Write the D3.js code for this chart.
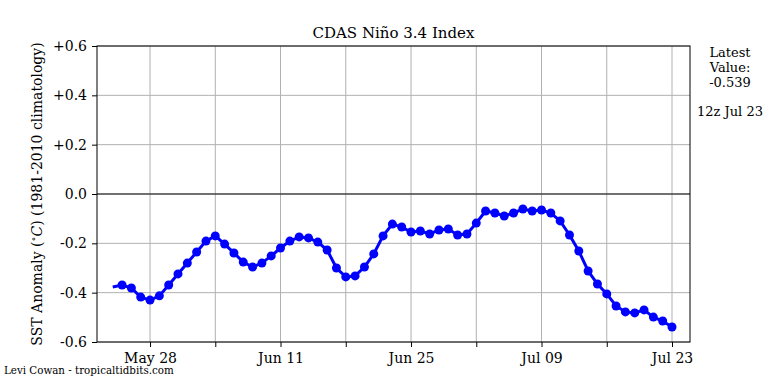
<!DOCTYPE html>
<html>
<head>
<meta charset="utf-8">
<script src="https://cdn.jsdelivr.net/npm/d3@7"></script>
<style>
  body { margin: 0; background: #fff; }
  svg { font-family: "DejaVu Serif", serif; }
</style>
</head>
<body>
<svg id="chart" width="768" height="384"></svg>
<script>
// daily values, first day has no marker (line only)
const startDate = '2024-05-24';
const anomaly = [
  -0.377, -0.369, -0.381, -0.418, -0.430, -0.413, -0.369, -0.324, -0.280, -0.235,
  -0.191, -0.170, -0.203, -0.239, -0.276, -0.296, -0.280, -0.251, -0.219, -0.191,
  -0.174, -0.178, -0.195, -0.227, -0.300, -0.336, -0.332, -0.296, -0.243, -0.170,
  -0.122, -0.134, -0.154, -0.150, -0.162, -0.146, -0.142, -0.166, -0.162, -0.118,
  -0.069, -0.077, -0.089, -0.077, -0.061, -0.069, -0.065, -0.077, -0.109, -0.166,
  -0.231, -0.312, -0.365, -0.405, -0.454, -0.478, -0.482, -0.470, -0.499, -0.515,
  -0.539
];
const xTickDates = ['2024-05-28', '2024-06-04', '2024-06-11', '2024-06-18', '2024-06-25',
  '2024-07-02', '2024-07-09', '2024-07-16', '2024-07-23'];
const xTickLabels = ['May 28', '', 'Jun 11', '', 'Jun 25', '', 'Jul 09', '', 'Jul 23'];
const yTicks = [-0.6, -0.4, -0.2, 0.0, 0.2, 0.4, 0.6];
const yTickLabels = ['-0.6', '-0.4', '-0.2', '0.0', '+0.2', '+0.4', '+0.6'];

const DAY = 86400000;
const t0 = new Date(startDate + 'T00:00:00Z').getTime();
const points = anomaly.map((v, i) => ({ date: new Date(t0 + i * DAY), value: v }));

const svg = d3.select('#chart');
const plotL = 97, plotR = 690, plotT = 46, plotB = 342;

const may28 = new Date('2024-05-28T00:00:00Z').getTime();
const x = d3.scaleUtc()
  .domain([new Date(may28 - 5.69 * DAY), new Date(may28 + 57.93 * DAY)])
  .range([plotL, plotR]);
const y = d3.scaleLinear().domain([-0.6, 0.6]).range([plotB, plotT]);

const tickDates = xTickDates.map(d => new Date(d + 'T00:00:00Z'));

// grid
const grid = svg.append('g');
grid.selectAll('line.vg').data(tickDates).enter().append('line')
  .attr('x1', d => x(d)).attr('x2', d => x(d))
  .attr('y1', plotT).attr('y2', plotB)
  .attr('stroke', '#b0b0b0').attr('stroke-width', 1);
grid.selectAll('line.hg').data(yTicks.filter(v => v !== 0)).enter().append('line')
  .attr('x1', plotL).attr('x2', plotR)
  .attr('y1', d => y(d)).attr('y2', d => y(d))
  .attr('stroke', '#b0b0b0').attr('stroke-width', 1);

// zero line
svg.append('line')
  .attr('x1', plotL).attr('x2', plotR)
  .attr('y1', y(0)).attr('y2', y(0))
  .attr('stroke', '#404040').attr('stroke-width', 1.5);

// series
const line = d3.line().x(d => x(d.date)).y(d => y(d.value));
svg.append('path').datum(points)
  .attr('d', line)
  .attr('fill', 'none').attr('stroke', '#0000ff').attr('stroke-width', 3);
svg.append('g').selectAll('circle').data(points.slice(1)).enter().append('circle')
  .attr('cx', d => x(d.date)).attr('cy', d => y(d.value))
  .attr('r', 4.5).attr('fill', '#0000ff');

// frame
svg.append('rect')
  .attr('x', plotL).attr('y', plotT)
  .attr('width', plotR - plotL).attr('height', plotB - plotT)
  .attr('fill', 'none').attr('stroke', '#000').attr('stroke-width', 1);

// axes
const xAxis = d3.axisBottom(x)
  .tickValues(tickDates)
  .tickFormat((d, i) => xTickLabels[i])
  .tickSize(5).tickPadding(6);
const gx = svg.append('g').attr('transform', `translate(0,${plotB})`).call(xAxis);
gx.select('.domain').remove();
gx.selectAll('text').attr('font-family', '"DejaVu Serif", serif').attr('font-size', 14).attr('fill', '#000');

const yAxis = d3.axisLeft(y)
  .tickValues(yTicks)
  .tickFormat((d, i) => yTickLabels[i])
  .tickSize(5).tickPadding(5);
const gy = svg.append('g').attr('transform', `translate(${plotL},0)`).call(yAxis);
gy.select('.domain').remove();
gy.selectAll('text').attr('font-family', '"DejaVu Serif", serif').attr('font-size', 14).attr('fill', '#000');

// title
svg.append('text')
  .attr('x', (plotL + plotR) / 2).attr('y', 38)
  .attr('text-anchor', 'middle').attr('font-size', 15)
  .text('CDAS Niño 3.4 Index');

// y label
const yl = svg.append('text')
  .attr('transform', `translate(42,${(plotT + plotB) / 2}) rotate(-90)`)
  .attr('text-anchor', 'middle').attr('font-size', 14);
yl.append('tspan').text('SST Anomaly (');
yl.append('tspan').attr('font-size', 10).attr('dy', -5).text('∘');
yl.append('tspan').attr('dy', 5).attr('font-style', 'italic').text('C');
yl.append('tspan').text(') (1981-2010 climatology)');

// latest value box
const info = ['Latest', 'Value:', '-0.539'];
svg.append('g').selectAll('text').data(info).enter().append('text')
  .attr('x', 730).attr('y', (d, i) => 57 + i * 15)
  .attr('text-anchor', 'middle').attr('font-size', 13)
  .text(d => d);
svg.append('text')
  .attr('x', 730).attr('y', 116)
  .attr('text-anchor', 'middle').attr('font-size', 13)
  .text('12z Jul 23');

// credit
svg.append('text')
  .attr('x', 4).attr('y', 374)
  .attr('font-size', 10.3)
  .text('Levi Cowan - tropicaltidbits.com');
</script>
</body>
</html>
